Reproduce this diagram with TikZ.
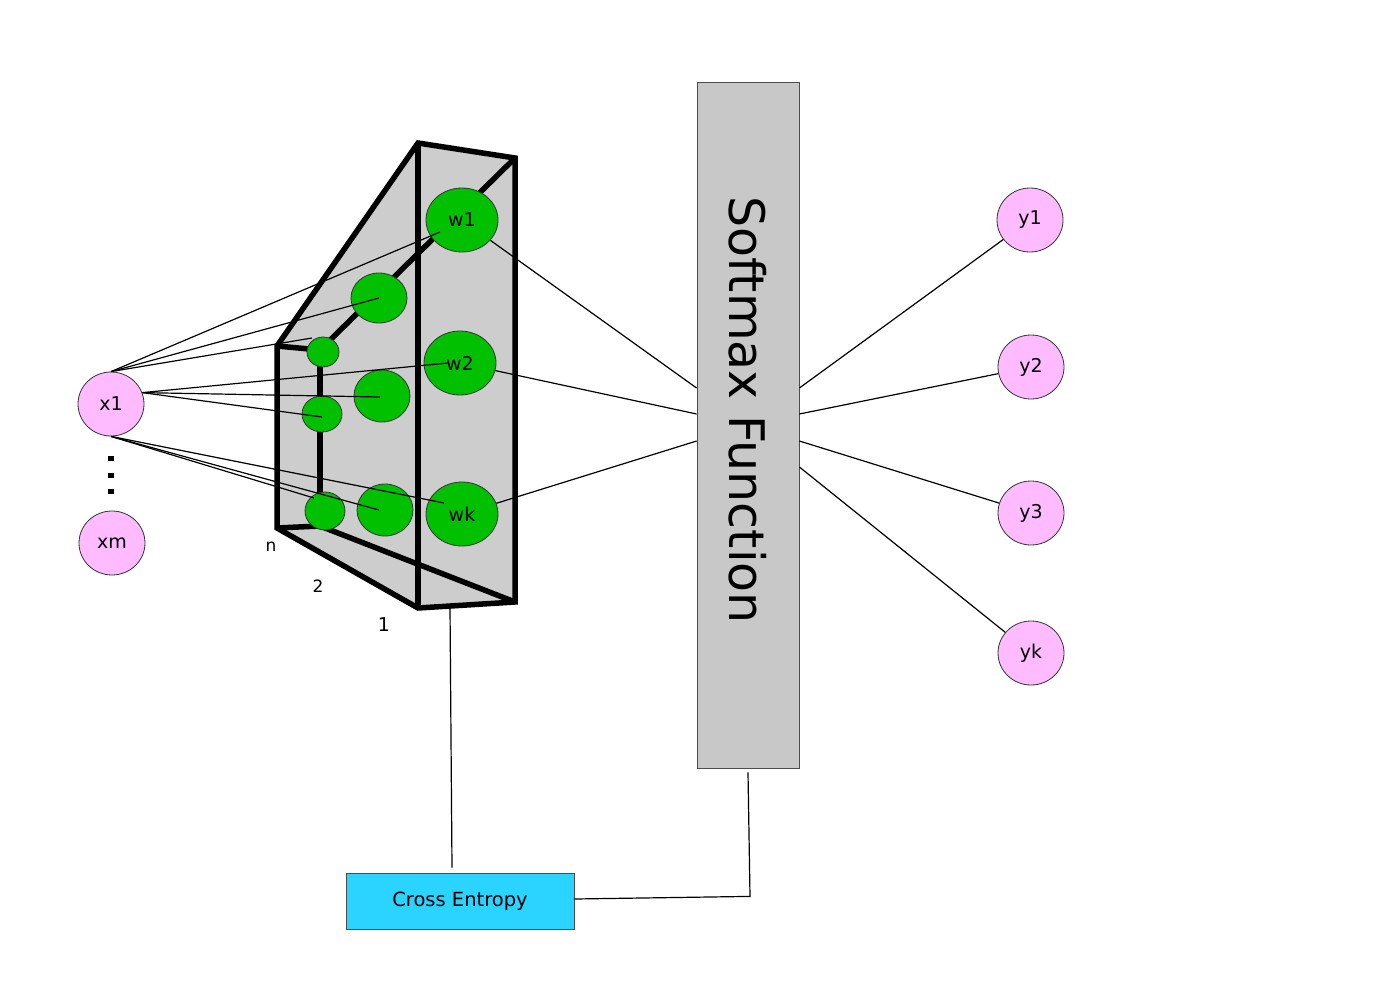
\documentclass[tikz,border=0pt]{standalone}
\usepackage{fontspec}
\setmainfont{DejaVu Sans}
\usetikzlibrary{shapes.geometric}

\definecolor{inpink}{HTML}{FFBBFF}
\definecolor{cellgreen}{HTML}{00C000}
\definecolor{lossblue}{HTML}{2AD4FF}
\definecolor{boxgray}{HTML}{C8C8C8}
\definecolor{prismgray}{HTML}{CDCDCD}

\tikzset{
    unit/.style={ellipse, draw=black!80, line width=0.8pt, fill=inpink, minimum width=66pt, minimum height=64pt, inner sep=0pt, font=\fontsize{19}{21}\selectfont},
    cell/.style={ellipse, draw=black!80, line width=0.8pt, fill=cellgreen, inner sep=0pt, font=\fontsize{19}{21}\selectfont},
    wire/.style={line width=1.2pt},
    prism/.style={line width=5.5pt},
    layer/.style={font=\fontsize{17}{19}\selectfont},
}

\begin{document}
\begin{tikzpicture}[x=1pt, y=-1pt]
    \useasboundingbox (0,0) rectangle (1400,980);

    % hidden layers as a prism
    \fill[prismgray] (418,143) -- (515,158) -- (515,602) -- (418,608) -- (277,528) -- (277,346) -- cycle;
    \draw[prism] (277,346) -- (320,350) -- (515,158);
    \draw[prism] (320,350) -- (320,526);
    \draw[prism] (277,528) -- (320,526) -- (515,602);
    \draw[prism] (418,143) -- (515,158) -- (515,602) -- (418,608) -- (277,528) -- (277,346) -- cycle;
    \draw[prism] (418,143) -- (418,608);

    \node[cell, minimum width=72pt, minimum height=64pt] (w1) at (462,220) {w1};
    \node[cell, minimum width=72pt, minimum height=64pt] (w2) at (460,363) {w2};
    \node[cell, minimum width=72pt, minimum height=64pt] (wk) at (462,514) {wk};
    \node[cell, minimum width=56pt, minimum height=50pt] (b1) at (379,298) {};
    \node[cell, minimum width=56pt, minimum height=52pt] (b2) at (382,396) {};
    \node[cell, minimum width=56pt, minimum height=52pt] (bk) at (385,510) {};
    \node[cell, minimum width=32pt, minimum height=30pt] (c1) at (323,352) {};
    \node[cell, minimum width=40pt, minimum height=36pt] (c2) at (322,414) {};
    \node[cell, minimum width=40pt, minimum height=38pt] (ck) at (325,511) {};

    \node[layer] (lbln) at (271,547) {n};
    \node[layer] (lbl2) at (318,586) {2};
    \node[layer, font=\fontsize{19}{21}\selectfont] (lbl1) at (384,625) {1};

    % inputs
    \node[unit] (x1) at (111,404) {x1};
    \node[unit] (xm) at (112,543) {xm};
    \foreach \y in {458,475,491}
        \fill (108,\y-2.5) rectangle ++(6,5);

    \draw[wire] (x1.north) -- ([shift={(-22,12)}]w1.center);
    \draw[wire] (x1.north) -- (b1.center);
    \draw[wire] (x1.north) -- ([shift={(-11,-14)}]c1.center);
    \draw[wire] (x1.20) -- ([shift={(-12,0)}]w2.center);
    \draw[wire] (x1.20) -- ([shift={(-2,1)}]b2.center);
    \draw[wire] (x1.20) -- ([shift={(0,3)}]c2.center);
    \draw[wire] (x1.south) -- ([shift={(-18,-11)}]wk.center);
    \draw[wire] (x1.south) -- ([shift={(-6,0)}]bk.center);
    \draw[wire] (x1.south) -- ([shift={(-11,-13)}]ck.center);

    % softmax and outputs
    \node[draw=black!70, line width=0.8pt, fill=boxgray, minimum width=102pt, minimum height=686pt] (softmax) at (748,425) {};
    \node[rotate=-90, font=\fontsize{49}{58}\selectfont] (smlabel) at (748,410) {Softmax Function};

    \node[unit] (y1) at (1030,220) {y1};
    \node[unit] (y2) at (1031,367) {y2};
    \node[unit] (y3) at (1031,513) {y3};
    \node[unit] (yk) at (1031,653) {yk};

    \draw[wire] (w1) -- ([yshift=37pt]softmax.west);
    \draw[wire] (w2) -- ([yshift=11pt]softmax.west);
    \draw[wire] (wk) -- ([yshift=-16pt]softmax.west);

    \draw[wire] ([yshift=37pt]softmax.east) -- (y1);
    \draw[wire] ([yshift=11pt]softmax.east) -- (y2);
    \draw[wire] ([yshift=-16pt]softmax.east) -- (y3);
    \draw[wire] ([yshift=-42pt]softmax.east) -- (yk);

    % loss
    \node[draw=black!70, line width=0.8pt, fill=lossblue, minimum width=228pt, minimum height=56pt, font=\fontsize{19.5}{22}\selectfont] (loss) at (460,901) {Cross Entropy};
    \coordinate (prismbase) at (450,607);
    \draw[wire] (prismbase) -- ([shift={(-8,-5)}]loss.north);
    \draw[wire] ([yshift=-4pt]softmax.south) -- ++(2,124) -- ([yshift=2pt]loss.east);
\end{tikzpicture}
\end{document}
